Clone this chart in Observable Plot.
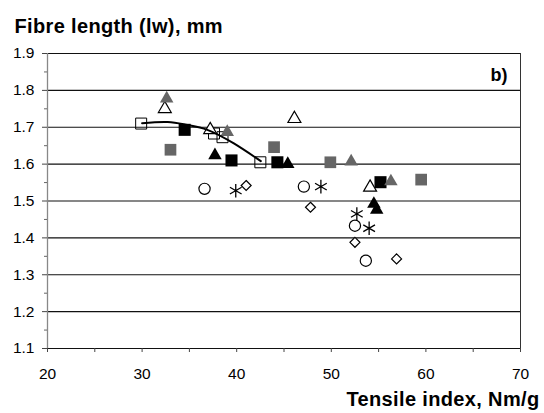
<!DOCTYPE html>
<html>
<head>
<meta charset="utf-8">
<script src="https://cdn.jsdelivr.net/npm/d3@7"></script>
<script src="https://cdn.jsdelivr.net/npm/@observablehq/plot@0.6"></script>
<style>
  html, body { margin: 0; padding: 0; background: #fff; }
  .bigbold text { letter-spacing: 0.35px; }
</style>
</head>
<body>
<div id="chart"></div>
<script>
// Tick values
const yTicks = [1.1, 1.2, 1.3, 1.4, 1.5, 1.6, 1.7, 1.8, 1.9];
const yMinor = [1.15, 1.25, 1.35, 1.45, 1.55, 1.65, 1.75, 1.85];
const xTicks = [20, 25, 30, 35, 40, 45, 50, 55, 60, 65, 70];
const xLabeled = [20, 30, 40, 50, 60, 70];

// Series: [tensile index, fibre length]
const openSquare   = [[29.9, 1.710], [37.6, 1.683], [38.5, 1.673], [42.5, 1.605]];
const blackSquare  = [[34.5, 1.693], [39.45, 1.610], [44.3, 1.605], [55.2, 1.551]];
const graySquare   = [[33.0, 1.639], [43.95, 1.646], [49.9, 1.605], [59.5, 1.558]];
const openTriangle = [[32.4, 1.750], [37.2, 1.693], [46.1, 1.723], [54.1, 1.537]];
const grayTriangle = [[32.6, 1.778], [39.0, 1.687], [52.1, 1.607], [56.3, 1.553]];
const blackTriangle= [[37.7, 1.624], [45.4, 1.600], [54.5, 1.492], [54.8, 1.476]];
const openCircle   = [[36.6, 1.533], [47.1, 1.539], [52.5, 1.433], [53.65, 1.338]];
const asterisk     = [[39.9, 1.528], [48.9, 1.539], [52.7, 1.465], [54.0, 1.426]];
const openDiamond  = [[41.0, 1.542], [47.8, 1.483], [52.5, 1.388], [56.9, 1.343]];
// Trend curve
const trendCurve   = [[30.0, 1.711], [32.7, 1.714], [34.8, 1.706], [36.9, 1.693], [39.7, 1.656], [42.55, 1.608]];

const font = "Liberation Sans, Arial, Helvetica, sans-serif";
const X = d => d[0], Y = d => d[1];

const chart = Plot.plot({
  width: 544,
  height: 413,
  marginLeft: 47,
  marginRight: 24,
  marginTop: 53,
  marginBottom: 65,
  x: {domain: [20, 70]},
  y: {domain: [1.1, 1.9]},
  style: {fontFamily: font, color: "#000", background: "#fff", overflow: "visible"},
  marks: [
    Plot.ruleY(yTicks, {stroke: "#111", strokeWidth: 1.1}),
    Plot.ruleX([20], {stroke: "#888", strokeWidth: 1.3}),
    Plot.ruleX([70], {stroke: "#333", strokeWidth: 1}),
    Plot.axisY({ticks: yTicks, tickSize: 5, tickPadding: 8, tickFormat: d3.format(".1f"), fontSize: 15.5, label: null, stroke: "#444"}),
    Plot.axisY({ticks: yMinor, tickSize: 3, tickFormat: () => "", label: null, stroke: "#666"}),
    Plot.axisX({ticks: xTicks, tickSize: 4, tickPadding: 15, fontSize: 15.5, label: null, stroke: "#444",
      tickFormat: d => xLabeled.includes(d) ? String(d) : ""}),

    Plot.dot(graySquare,   {x: X, y: Y, symbol: "square", r: 6.6, fill: "#666", stroke: "none"}),
    Plot.dot(blackSquare,  {x: X, y: Y, symbol: "square", r: 6.8, fill: "#000", stroke: "none"}),
    Plot.dot(openSquare,   {x: X, y: Y, symbol: "square", r: 6.2, fill: "none", stroke: "#000", strokeWidth: 1}),
    Plot.dot(openTriangle, {x: X, y: Y, symbol: "triangle", r: 4.8, fill: "#fff", stroke: "#000", strokeWidth: 1.2}),
    Plot.dot(grayTriangle, {x: X, y: Y, symbol: "triangle", r: 5, fill: "#666", stroke: "none"}),
    Plot.dot(blackTriangle,{x: X, y: Y, symbol: "triangle", r: 5, fill: "#000", stroke: "none"}),
    Plot.dot(openCircle,   {x: X, y: Y, symbol: "circle", r: 5.6, fill: "none", stroke: "#000", strokeWidth: 1.2}),
    Plot.dot(openDiamond,  {x: X, y: Y, symbol: "diamond2", r: 4.5, fill: "#fff", stroke: "#000", strokeWidth: 1.2}),
    Plot.dot(asterisk,     {x: X, y: Y, symbol: "asterisk", r: 6.4, fill: "none", stroke: "#000", strokeWidth: 1.3}),
    Plot.line(trendCurve,  {x: X, y: Y, curve: "natural", stroke: "#000", strokeWidth: 2}),

    Plot.text(["Fibre length (lw), mm"], {frameAnchor: "top-left", textAnchor: "start", lineAnchor: "bottom",
      dx: -33, dy: -21, fontSize: 20, fontWeight: "bold", fill: "#000", className: "bigbold"}),
    Plot.text(["Tensile index, Nm/g"], {frameAnchor: "bottom-right", textAnchor: "end", lineAnchor: "bottom",
      dx: 19, dy: 57, fontSize: 20, fontWeight: "bold", fill: "#000", className: "bigbold"}),
    Plot.text(["b)"], {frameAnchor: "top-right", textAnchor: "end", lineAnchor: "bottom",
      dx: -13, dy: 27, fontSize: 18, fontWeight: "bold", fill: "#000"})
  ]
});
document.getElementById("chart").appendChild(chart);
</script>
</body>
</html>
